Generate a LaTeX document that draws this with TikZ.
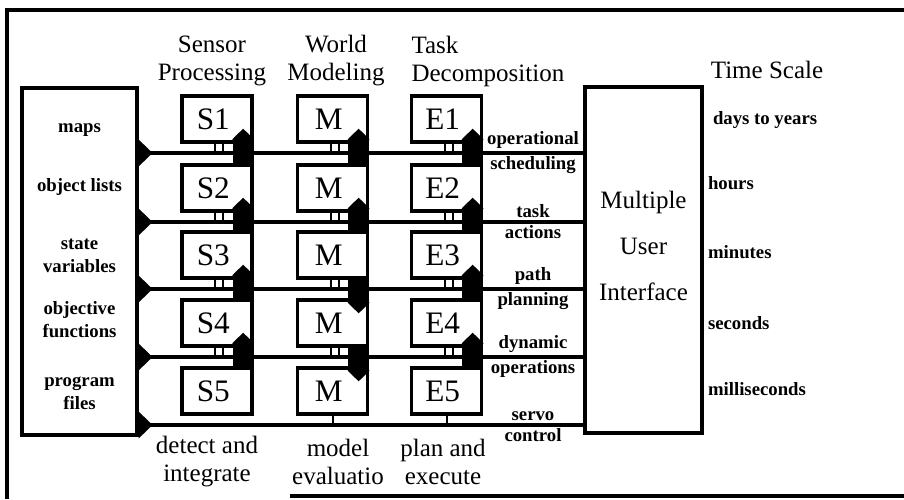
\documentclass[tikz,border=0pt]{standalone}
\usepackage{fontspec}
\setmainfont{Liberation Serif}
\usetikzlibrary{arrows.meta}

\tikzset{
  blk/.style={draw, line width=1.3pt, minimum width=28pt, minimum height=18.4pt, inner sep=0pt, font=\fontsize{12.5}{14}\selectfont},
  big/.style={draw, line width=1.3pt, inner sep=0pt},
  hdr/.style={font=\fontsize{10}{11.2}\selectfont, align=center, inner sep=0pt},
  lbl/.style={font=\fontsize{7.5}{9.2}\selectfont\bfseries, align=center, inner sep=1pt},
  bus/.style={line width=1.4pt, {Triangle[reversed, length=5.6pt, width=10.4pt]}-},
  flow/.style={line width=8.4pt, -{Triangle[length=4.4pt, width=8.6pt]}},
  stub/.style={line width=0.8pt}
}

\begin{document}
\begin{tikzpicture}[x=0.4pt, y=-0.4pt]
\useasboundingbox (0,0) rectangle (904,499);
\draw[line width=1.6pt] (904,10) -- (7,10) -- (7,499);
\draw[line width=1.6pt] (290,496) -- (904,496);

\node[big, minimum width=46pt, minimum height=138.8pt] (src) at (79.5,261.5) {};
\node[big, minimum width=46.8pt, minimum height=138.4pt] (ui) at (643.5,260) {};
\node[hdr, font=\fontsize{10}{18.4}\selectfont] (uitxt) at (643.5,246) {Multiple\\User\\Interface};

\node[hdr] (hs) at (212,61) {Sensor\\Processing};
\node[hdr] (hm) at (336,61) {World\\Modeling};
\node[hdr, align=left, anchor=west] (he) at (411,61) {Task\\Decomposition};
\node[hdr] (ht) at (767,70) {Time Scale};

\foreach \i/\y in {1/119,2/188,3/255,4/323,5/391}
{
\node[blk] (S\i) at (217,\y) {S\i\hspace*{3pt}};
\node[blk] (M\i) at (332.5,\y) {M\hspace*{3pt}};
\node[blk] (E\i) at (446.5,\y) {E\i\hspace*{3pt}};
}

\foreach \i/\y/\a/\b in {1/153/operational/scheduling, 2/222/task/actions,
  3/289/path/planning, 4/357/dynamic/operations, 5/425/servo/control}
{
\draw[bus] (src.east |- 0,\y) -- (ui.west |- 0,\y);
\node[lbl, above=0.5pt] (up\i) at (533,\y) {\a};
\node[lbl, below=0pt] (dn\i) at (533,\y) {\b};
}

\foreach \i in {1,...,4}
\foreach \c in {S,M,E}
{
\draw[stub] ([xshift=-0.8pt]\c\i.south) -- ++(0,11);
\draw[stub] ([xshift=2.4pt]\c\i.south) -- ++(0,11);
}
\draw[stub] (M5.south) -- ++(0,11);
\draw[stub] (E5.south) -- ++(0,11);

\foreach \i/\j in {1/2,2/3,3/4,4/5}
{
\draw[flow] ([xshift=-4.2pt]S\j.north east) -- ([xshift=-4.2pt,yshift=6pt]S\i.south east);
\draw[flow] ([xshift=-4.2pt]E\j.north east) -- ([xshift=-4.2pt,yshift=6pt]E\i.south east);
}
\foreach \i/\j in {1/2,2/3}
\draw[flow] ([xshift=-4.2pt]M\j.north east) -- ([xshift=-4.2pt,yshift=6pt]M\i.south east);
\foreach \i/\j in {3/4,4/5}
\draw[flow] ([xshift=-4.2pt]M\i.south east) -- ([xshift=-4.2pt,yshift=-6pt]M\j.north east);

\node[lbl] (l1) at (79.5,130) {maps};
\node[lbl] (l2) at (79.5,187) {object lists};
\node[lbl] (l3) at (79.5,256) {state\\variables};
\node[lbl] (l4) at (79.5,320) {objective\\functions};
\node[lbl] (l5) at (79.5,393) {program\\files};

\node[lbl, anchor=west] (t1) at (710,120) {days to years};
\node[lbl, anchor=west] (t2) at (705,183) {hours};
\node[lbl, anchor=west] (t3) at (705,252) {minutes};
\node[lbl, anchor=west] (t4) at (705,323) {seconds};
\node[lbl, anchor=west] (t5) at (705,389) {milliseconds};

\node[hdr] (b1) at (207,462) {detect and\\integrate};
\node[hdr] (b2) at (338,462) {model\\evaluatio};
\node[hdr] (b3) at (443,462) {plan and\\execute};
\end{tikzpicture}
\end{document}
